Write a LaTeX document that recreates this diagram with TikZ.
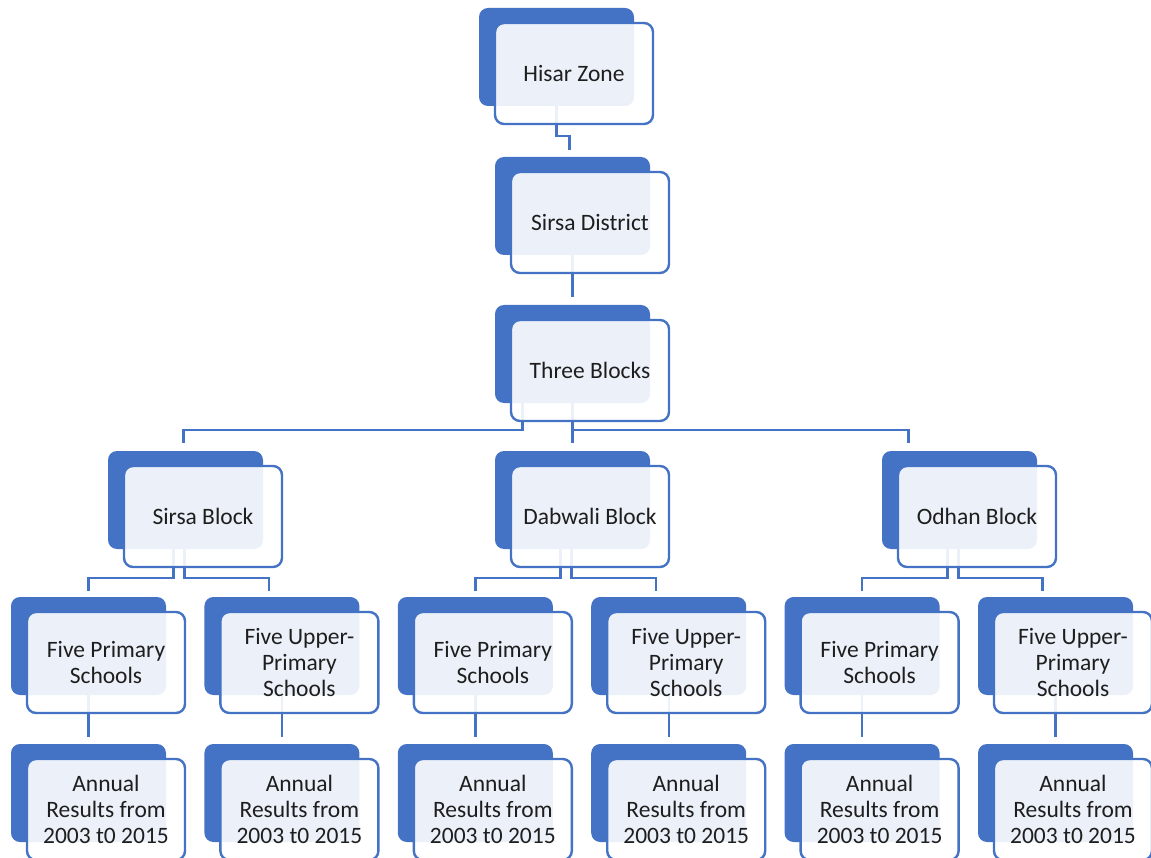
\documentclass[tikz,border=0pt]{standalone}
\usepackage{fontspec}
\setmainfont{Carlito}
\usetikzlibrary{calc}
\definecolor{blu}{HTML}{4472C4}
\definecolor{txt}{HTML}{1E1E1E}
\tikzset{
  backbox/.style={fill=blu, draw=none, rounded corners=9pt, minimum width=155pt, minimum height=98pt, inner sep=0pt, outer sep=0pt, anchor=north west},
  frontbox/.style={draw=blu, line width=2.4pt, fill=white, fill opacity=0.9, text opacity=1, rounded corners=9pt, minimum width=158pt, minimum height=101pt, inner sep=0pt, outer sep=0pt, anchor=north west, align=center, text=txt, font=\fontsize{23.5}{26}\selectfont},
  conn/.style={draw=blu, line width=2.4pt}
}
\begin{document}
\begin{tikzpicture}[x=1pt,y=-1pt]
\useasboundingbox (0,0) rectangle (1151,858);
% back boxes
\node[backbox] (hz) at (479,8) {};
\node[backbox] (sd) at (495,157) {};
\node[backbox] (tb) at (495,305) {};
\node[backbox] (sb) at (108,451) {};
\node[backbox] (db) at (495,451) {};
\node[backbox] (ob) at (882,451) {};
\node[backbox] (p1) at (11,597) {};
\node[backbox] (p2) at (204.4,597) {};
\node[backbox] (p3) at (397.8,597) {};
\node[backbox] (p4) at (591.2,597) {};
\node[backbox] (p5) at (784.6,597) {};
\node[backbox] (p6) at (978,597) {};
\node[backbox] (a1) at (11,744) {};
\node[backbox] (a2) at (204.4,744) {};
\node[backbox] (a3) at (397.8,744) {};
\node[backbox] (a4) at (591.2,744) {};
\node[backbox] (a5) at (784.6,744) {};
\node[backbox] (a6) at (978,744) {};
% connectors
\draw[conn] (hz.south) -- ++(0,30) -| ($(sd.north)+(-3,-7)$);
\draw[conn] (sd.south) -- ($(tb.north)+(0,-8)$);
\draw[conn] ($(tb.south)+(-50,0)$) -- ++(0,27) -| ($(sb.north)+(-2,-8)$);
\draw[conn] (tb.south) -- ($(db.north)+(0,-8)$);
\draw[conn] ($(tb.south)+(0,27)$) -| ($(ob.north)+(-51,-8)$);
\foreach \blk/\l/\r in {sb/p1/p2, db/p3/p4, ob/p5/p6}{
  \draw[conn] ($(\blk.south)+(-12,0)$) -- ++(0,29) -| ($(\l.north)+(0,-6)$);
  \draw[conn] ($(\blk.south)+(-1,0)$) -- ++(0,29) -| ($(\r.north)+(-13,-6)$);
}
\foreach \s/\a in {p1/a1, p2/a2, p3/a3, p4/a4, p5/a5, p6/a6}{
  \draw[conn] (\s.south) -- ($(\a.north)+(0,-7)$);
}
% front boxes
\node[frontbox] (hzf) at ($(hz.north west)+(16,15)$) {Hisar Zone};
\node[frontbox] (sdf) at ($(sd.north west)+(16,15)$) {Sirsa District};
\node[frontbox] (tbf) at ($(tb.north west)+(16,15)$) {Three Blocks};
\node[frontbox] (sbf) at ($(sb.north west)+(16,15)$) {Sirsa Block};
\node[frontbox] (dbf) at ($(db.north west)+(16,15)$) {Dabwali Block};
\node[frontbox] (obf) at ($(ob.north west)+(16,15)$) {Odhan Block};
\foreach \n in {p1,p3,p5}{
  \node[frontbox] (\n f) at ($(\n.north west)+(16,15)$) {Five Primary\\Schools};
}
\foreach \n in {p2,p4,p6}{
  \node[frontbox] (\n f) at ($(\n.north west)+(16,15)$) {Five Upper-\\Primary\\Schools};
}
\foreach \n in {a1,a2,a3,a4,a5,a6}{
  \node[frontbox] (\n f) at ($(\n.north west)+(16,15)$) {Annual\\Results from\\2003 t0 2015};
}
\end{tikzpicture}
\end{document}
